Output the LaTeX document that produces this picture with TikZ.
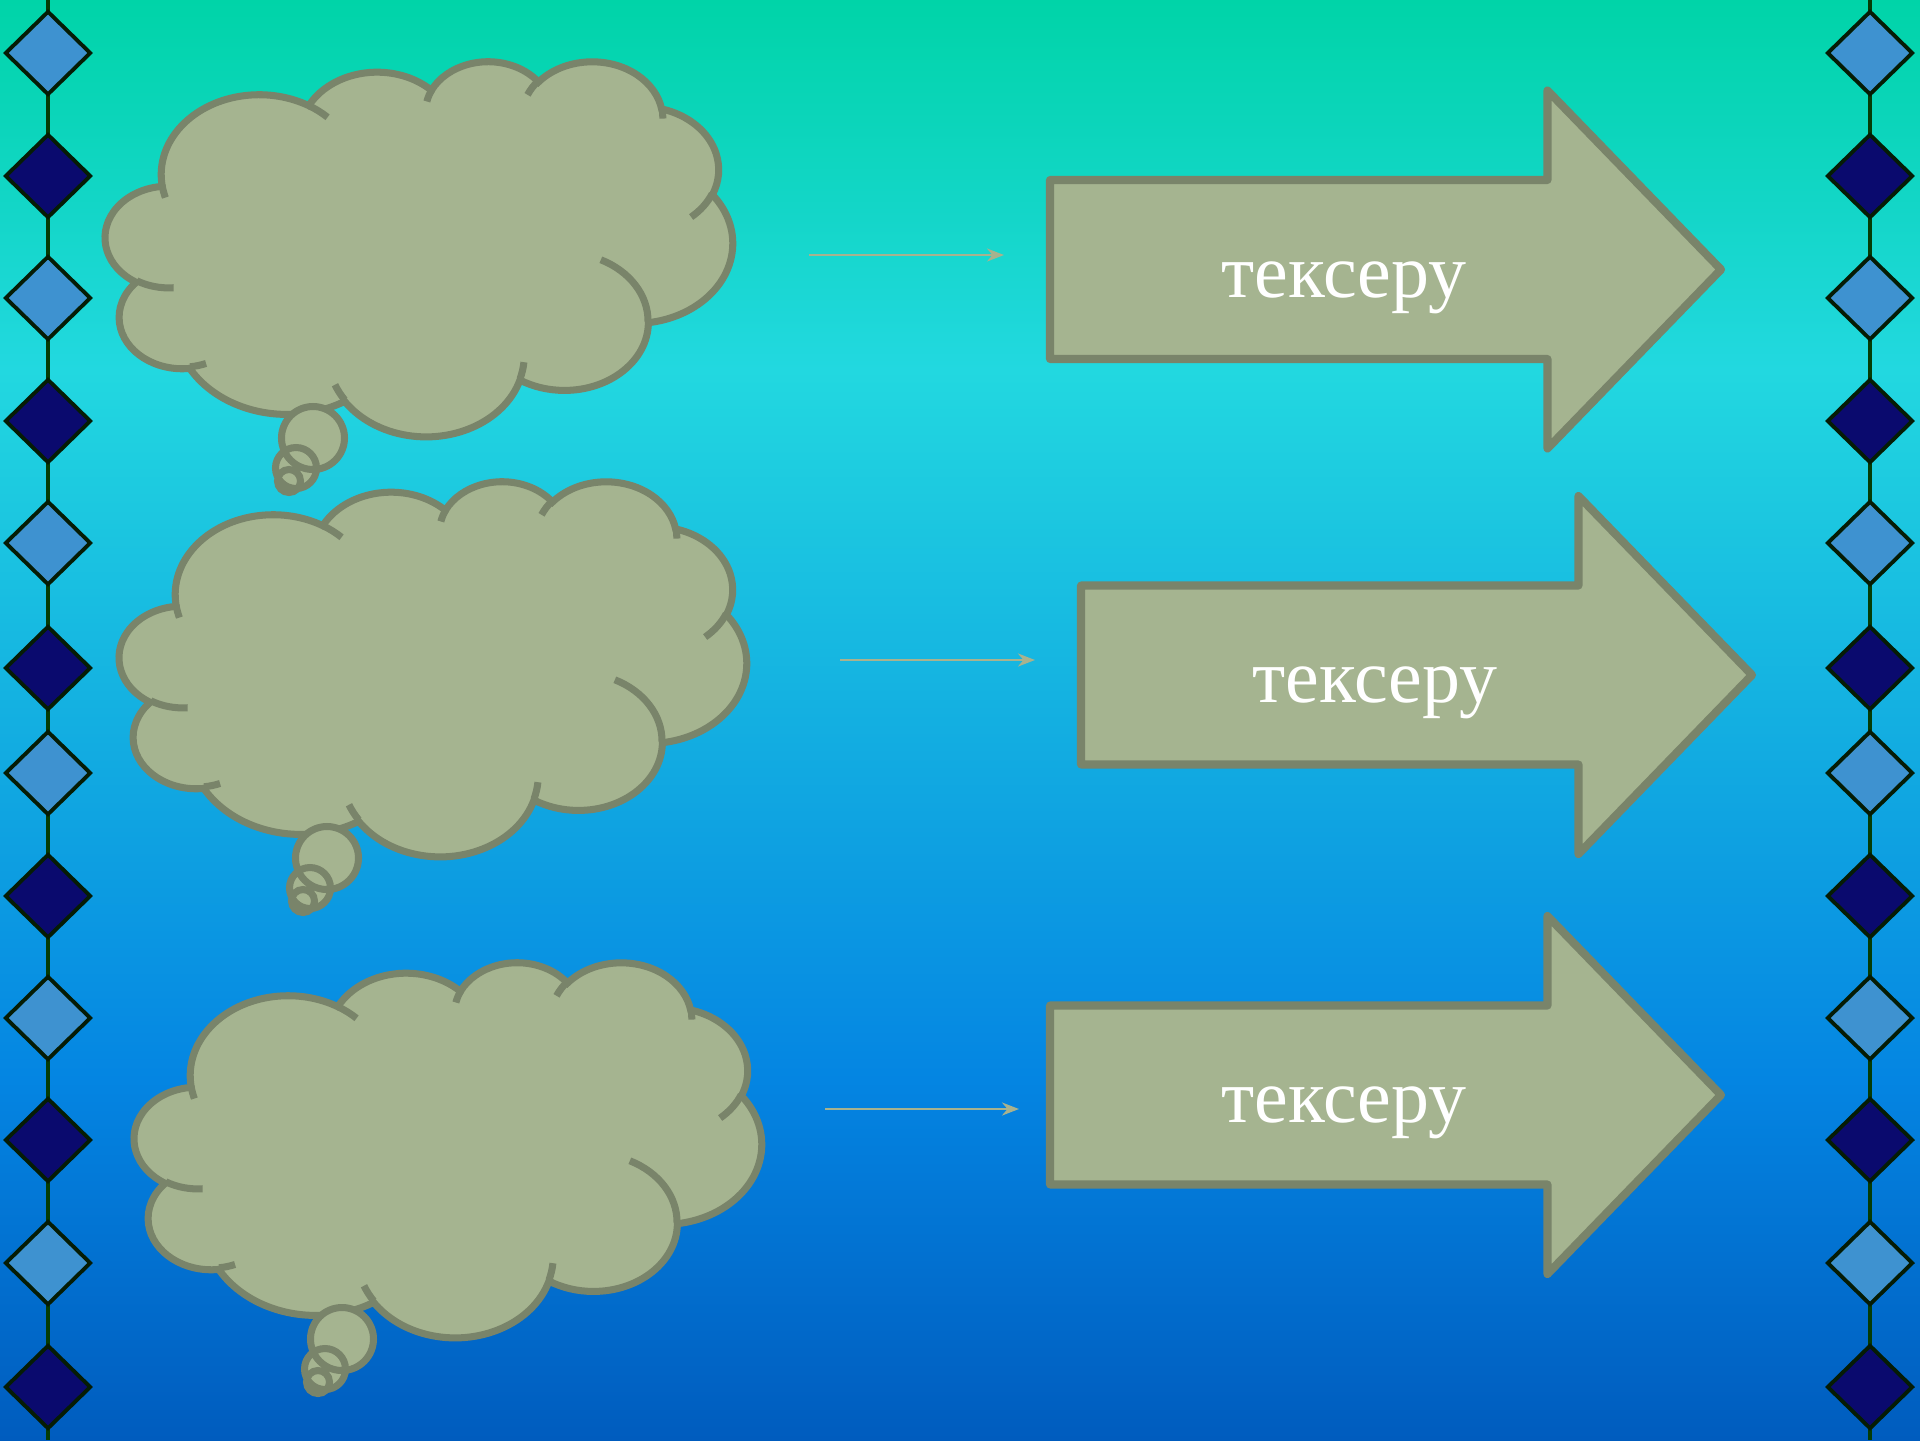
\documentclass[tikz,border=0pt]{standalone}
\usepackage{fontspec}
\setmainfont{Liberation Serif}
\usetikzlibrary{
    arrows.meta,
    shapes.geometric
}
\definecolor{seatop}{RGB}{0,212,168}
\definecolor{sealight}{RGB}{34,216,224}
\definecolor{seamid}{RGB}{4,133,226}
\definecolor{seadeep}{RGB}{0,92,190}
\definecolor{cloudfill}{RGB}{165,180,144}
\definecolor{cloudedge}{RGB}{121,132,106}
\definecolor{gemlight}{RGB}{62,146,208}
\definecolor{gemdark}{RGB}{10,10,110}
\definecolor{gemedge}{RGB}{5,28,5}
\definecolor{chaincolor}{RGB}{5,60,5}
\definecolor{arrowline}{RGB}{168,178,142}
% angle on a lobe ellipse, from the seen angle to the arc parameter
\pgfmathdeclarefunction{lobeangle}{3}{\pgfmathparse{atan2(#1*sin(#3),#2*cos(#3))}}
\tikzset{
    % Cloud
    cloud style/.style={draw=cloudedge,fill=cloudfill,line width=2pt},
    cloud seam/.style={draw=cloudedge,line width=2pt},
    lobe/.style n args={4}{x radius=#1,y radius=#2,
        start angle={lobeangle(#1,#2,#3)},
        delta angle={Mod(lobeangle(#1,#2,#3+#4)-lobeangle(#1,#2,#3),360)}},
    %
    % Border chains
    chain/.style={draw=chaincolor,line width=1pt},
    gem/.style={diamond,draw=gemedge,line width=1.1pt,inner sep=0pt,
        minimum width=0.86cm,minimum height=0.84cm,fill=#1},
    %
    % Arrows
    block arrow/.style={draw=cloudedge,fill=cloudfill,line width=2.3pt,line join=round},
    thin arr/.style={draw=arrowline,line width=0.7pt,-{Stealth[length=1.7mm,width=1.3mm]}},
    word/.style={text=white,font=\fontsize{21.6}{26}\selectfont,inner sep=0pt}
}

\begin{document}
\begin{tikzpicture}
    \useasboundingbox (0,0) rectangle (19.2,-14.4);
    % Background
    \shade[top color=seatop,bottom color=sealight] (0,0) rectangle (19.2,-3.7);
    \shade[top color=sealight,bottom color=seamid] (0,-3.7) rectangle (19.2,-10.8);
    \shade[top color=seamid,bottom color=seadeep] (0,-10.8) rectangle (19.2,-14.4);
    %
    % Border chains
    \coordinate (ltop) at (0.48,0);
    \coordinate (lbot) at (0.48,-14.4);
    \coordinate (rtop) at (18.70,0);
    \coordinate (rbot) at (18.70,-14.4);
    \draw[chain] (ltop) -- (lbot);
    \draw[chain] (rtop) -- (rbot);
    \foreach \gy/\gc [count=\i] in {0.53/gemlight,1.76/gemdark,2.98/gemlight,4.21/gemdark,
        5.43/gemlight,6.68/gemdark,7.73/gemlight,8.96/gemdark,10.18/gemlight,
        11.40/gemdark,12.63/gemlight,13.87/gemdark} {
        \node[gem=\gc] (l\i) at (0.48,-\gy) {};
        \node[gem=\gc] (r\i) at (18.70,-\gy) {};
    }
    %
    % Thought clouds
    \foreach \cx/\cy in {1.055/-0.605,1.195/-4.805,1.345/-9.615} {
        \begin{scope}[shift={(\cx,\cy)}]
            \begin{scope}[xscale=0.14514,yscale=-0.08681]
                \draw[cloud style] (3.900,14.370)
                    arc[lobe={6.753}{9.190}{-190.4875}{123.7805}]
                    arc[lobe={5.333}{7.267}{-144.1024}{89.9452}]
                    arc[lobe={4.365}{5.945}{-145.8079}{99.7230}]
                    arc[lobe={4.857}{6.595}{-130.9861}{117.2417}]
                    arc[lobe={5.333}{7.273}{-78.7089}{109.0269}]
                    arc[lobe={6.775}{9.220}{-46.2673}{130.2690}]
                    arc[lobe={5.785}{7.867}{0.6250}{114.0333}]
                    arc[lobe={6.752}{9.215}{22.4516}{115.1726}]
                    arc[lobe={7.720}{10.543}{66.2426}{75.7110}]
                    arc[lobe={4.360}{5.918}{-274.9421}{146.7356}]
                    arc[lobe={4.345}{5.945}{-246.8285}{152.5189}]
                    -- cycle;
                \draw[cloud seam]
                    (4.693,26.177) arc[lobe={4.345}{5.945}{86.7420}{26.4295}]
                    (6.928,34.899) arc[lobe={4.360}{5.918}{73.6105}{11.4475}]
                    (16.478,39.090) arc[lobe={6.752}{9.215}{137.6242}{14.0811}]
                    (28.827,34.751) arc[lobe={6.752}{9.215}{6.4533}{15.9984}]
                    (34.129,22.954) arc[lobe={5.785}{7.867}{-70.2924}{70.9174}]
                    (41.798,15.354) arc[lobe={5.333}{7.273}{30.3180}{27.7515}]
                    (38.324,5.426) arc[lobe={4.857}{6.595}{-13.7443}{14.8589}]
                    (29.078,3.952) arc[lobe={4.857}{6.595}{-149.1815}{18.1954}]
                    (22.141,4.720) arc[lobe={4.365}{5.945}{-163.4943}{17.6864}]
                    (14.000,5.192) arc[lobe={6.753}{9.190}{-66.7070}{12.3194}]
                    (4.127,15.789) arc[lobe={6.753}{9.190}{157.6544}{11.8582}];
            \end{scope}
            % bubbles
            \fill[cloudfill] (2.075,-3.775) circle (0.315) (1.905,-4.075) circle (0.205)
                (1.835,-4.205) circle (0.115);
            \draw[cloud seam] (2.075,-3.775) circle (0.315) (1.905,-4.075) circle (0.205)
                (1.835,-4.205) circle (0.115);
        \end{scope}
    }
    %
    % Block arrows with their words
    \foreach \ax/\ay [count=\i] in {10.50/-2.695,10.81/-6.75,10.50/-10.95} {
        \draw[block arrow] (\ax,\ay) ++(0,0.895) -- ++(4.975,0) -- ++(0,0.895)
            -- ++(1.735,-1.79) -- ++(-1.735,-1.79) -- ++(0,0.895) -- ++(-4.975,0) -- cycle;
        \node[word,anchor=base] (w\i) at (\ax+2.94,\ay-0.275) {тексеру};
    }
    %
    % Thin arrows
    \coordinate (s1) at (8.09,-2.55);
    \coordinate (e1) at (10.04,-2.55);
    \coordinate (s2) at (8.40,-6.60);
    \coordinate (e2) at (10.35,-6.60);
    \coordinate (s3) at (8.25,-11.09);
    \coordinate (e3) at (10.19,-11.09);
    \foreach \i in {1,2,3} {
        \draw[thin arr] (s\i) -- (e\i);
    }
\end{tikzpicture}
\end{document}
